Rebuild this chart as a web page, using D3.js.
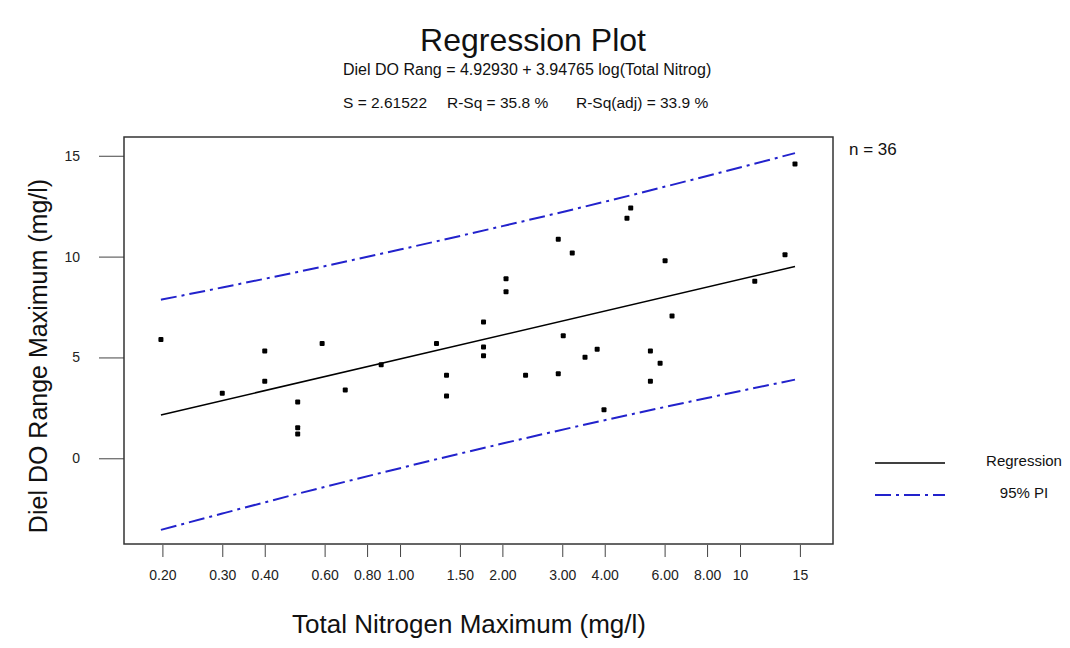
<!DOCTYPE html>
<html>
<head>
<meta charset="utf-8">
<script src="https://cdn.jsdelivr.net/npm/d3@7/dist/d3.min.js"></script>
<style>
  body { margin: 0; background: #fff; }
  svg { display: block; font-family: "Liberation Sans", Arial, sans-serif; }
</style>
</head>
<body>
<svg width="1070" height="648"></svg>
<script>
// total nitrogen max (mg/l) vs diel DO range max (mg/l)
var nitrogen = [0.198, 0.30, 0.40, 0.40, 0.50, 0.50, 0.50, 0.59, 0.69, 0.88, 1.28, 1.37, 1.37,
    1.76, 1.76, 1.76, 2.05, 2.05, 2.34, 2.92, 2.92, 3.02, 3.21, 3.50, 3.80, 3.98, 4.65, 4.77,
    5.45, 5.45, 5.82, 6.02, 6.31, 11.05, 13.56, 14.51];
var dielDO = [5.89, 3.22, 5.32, 3.82, 2.79, 1.52, 1.20, 5.69, 3.39, 4.64, 5.69, 4.12, 3.09,
    6.76, 5.52, 5.09, 8.90, 8.26, 4.12, 10.86, 4.19, 6.08, 10.18, 5.01, 5.40, 2.41, 11.90, 12.41,
    5.32, 3.82, 4.71, 9.80, 7.06, 8.78, 10.09, 14.59];

// fitted line end points
var fitX = [0.198, 14.51];
var fitY = [2.15, 9.51];

// 95% prediction interval
var piX = [0.198, 0.30, 0.50, 1.00, 2.00, 4.00, 8.00, 14.51];
var piUpper = [7.86, 8.47, 9.24, 10.35, 11.51, 12.72, 14.00, 15.13];
var piLower = [-3.55, -2.74, -1.76, -0.49, 0.73, 1.89, 2.99, 3.90];

var xTicks = [0.2, 0.3, 0.4, 0.6, 0.8, 1, 1.5, 2, 3, 4, 6, 8, 10, 15];
var xTickLabels = ["0.20", "0.30", "0.40", "0.60", "0.80", "1.00", "1.50", "2.00", "3.00", "4.00", "6.00", "8.00", "10", "15"];
var yTicks = [0, 5, 10, 15];

var frame = {left: 124, top: 137, right: 833, bottom: 544};
var blue = "#2222cc";
var dashDot = "16,5,3,5";

var svg = d3.select("svg");

var x = d3.scaleLog().domain([0.1542, 18.77]).range([frame.left, frame.right]);
var y = d3.scaleLinear().domain([-4.25, 15.93]).range([frame.bottom, frame.top]);

// titles
svg.append("text")
    .attr("x", 533).attr("y", 51)
    .attr("text-anchor", "middle")
    .attr("font-size", 32)
    .attr("fill", "#111")
    .text("Regression Plot");

svg.append("text")
    .attr("x", 343).attr("y", 75)
    .attr("font-size", 16)
    .attr("fill", "#111")
    .text("Diel DO Rang = 4.92930 + 3.94765 log(Total Nitrog)");

var stats = [["S = 2.61522", 343], ["R-Sq = 35.8 %", 447], ["R-Sq(adj) = 33.9 %", 576]];
svg.selectAll(".stat")
    .data(stats)
  .enter().append("text")
    .attr("class", "stat")
    .attr("x", function(d){ return d[1]; })
    .attr("y", 108)
    .attr("font-size", 15.5)
    .attr("fill", "#111")
    .text(function(d){ return d[0]; });

// axes
var xAxis = svg.append("g")
    .attr("transform", "translate(0," + (frame.bottom + 1) + ")")
    .call(d3.axisBottom(x).tickValues(xTicks)
        .tickFormat(function(d, i){ return xTickLabels[i]; })
        .tickSize(12).tickSizeOuter(0).tickPadding(13));
xAxis.select(".domain").remove();
xAxis.selectAll("line").attr("stroke", "#444");
xAxis.selectAll("text").attr("font-size", 14).attr("fill", "#222")
    .attr("font-family", "Liberation Sans, Arial, sans-serif");

var yAxis = svg.append("g")
    .attr("transform", "translate(" + frame.left + ",0)")
    .call(d3.axisLeft(y).tickValues(yTicks).tickSize(25).tickSizeOuter(0).tickPadding(19));
yAxis.select(".domain").remove();
yAxis.selectAll("line").attr("stroke", "#444");
yAxis.selectAll("text").attr("font-size", 14).attr("fill", "#222")
    .attr("font-family", "Liberation Sans, Arial, sans-serif");

svg.append("rect")
    .attr("x", frame.left).attr("y", frame.top)
    .attr("width", frame.right - frame.left)
    .attr("height", frame.bottom - frame.top)
    .attr("fill", "none")
    .attr("stroke", "#333")
    .attr("stroke-width", 1.5);

// axis titles
svg.append("text")
    .attr("x", 469).attr("y", 633)
    .attr("text-anchor", "middle")
    .attr("font-size", 26)
    .attr("fill", "#111")
    .text("Total Nitrogen Maximum (mg/l)");

svg.append("text")
    .attr("transform", "translate(47,356) rotate(-90)")
    .attr("text-anchor", "middle")
    .attr("font-size", 25)
    .attr("fill", "#111")
    .text("Diel DO Range Maximum (mg/l)");

// lines
var line = d3.line()
    .x(function(d){ return x(d[0]); })
    .y(function(d){ return y(d[1]); })
    .curve(d3.curveMonotoneX);

svg.append("path")
    .datum(d3.zip(fitX, fitY))
    .attr("d", line)
    .attr("fill", "none")
    .attr("stroke", "#000")
    .attr("stroke-width", 1.5);

[piUpper, piLower].forEach(function(band){
    svg.append("path")
        .datum(d3.zip(piX, band))
        .attr("d", line)
        .attr("fill", "none")
        .attr("stroke", blue)
        .attr("stroke-width", 2)
        .attr("stroke-dasharray", dashDot);
});

// points
svg.selectAll(".pt")
    .data(d3.zip(nitrogen, dielDO))
  .enter().append("rect")
    .attr("class", "pt")
    .attr("x", function(d){ return x(d[0]) - 2.5; })
    .attr("y", function(d){ return y(d[1]) - 2.5; })
    .attr("width", 5).attr("height", 5)
    .attr("rx", 1)
    .attr("fill", "#000");

// n and legend
svg.append("text")
    .attr("x", 849).attr("y", 155)
    .attr("font-size", 17)
    .attr("fill", "#111")
    .text("n = 36");

var legend = [
    {label: "Regression", color: "#000", width: 1.5, dash: null, y: 463},
    {label: "95% PI", color: blue, width: 2, dash: dashDot, y: 495}
];
var lg = svg.selectAll(".legend")
    .data(legend)
  .enter().append("g")
    .attr("class", "legend");
lg.append("line")
    .attr("x1", 875).attr("x2", 945)
    .attr("y1", function(d){ return d.y; })
    .attr("y2", function(d){ return d.y; })
    .attr("stroke", function(d){ return d.color; })
    .attr("stroke-width", function(d){ return d.width; })
    .attr("stroke-dasharray", function(d){ return d.dash; });
lg.append("text")
    .attr("x", 1024)
    .attr("y", function(d){ return d.y + 3; })
    .attr("text-anchor", "middle")
    .attr("font-size", 15)
    .attr("fill", "#111")
    .text(function(d){ return d.label; });
</script>
</body>
</html>
